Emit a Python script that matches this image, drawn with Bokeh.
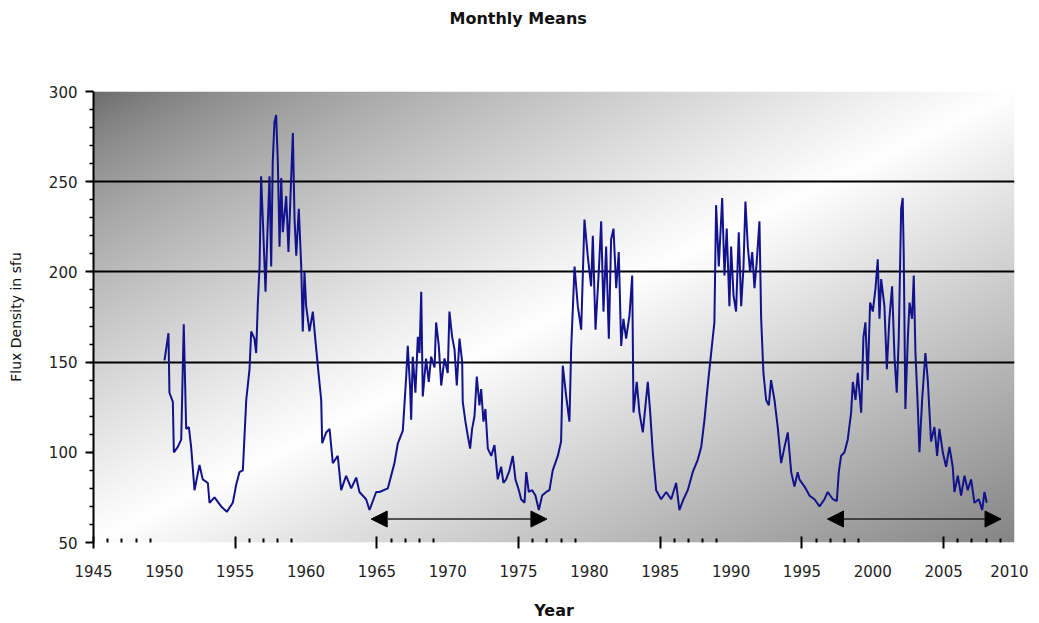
import numpy as np
from bokeh.plotting import figure
from bokeh.layouts import column
from bokeh.models import (Range1d, FixedTicker, LinearAxis, Grid, Arrow, NormalHead,
                          ColumnDataSource, Title)
from bokeh.embed import file_html
from bokeh.resources import INLINE

# ---------------- data ----------------
year = [
    1950.01, 1950.29, 1950.36, 1950.60, 1950.67, 1950.95, 1951.19, 1951.37, 1951.54, 1951.73,
    1951.89, 1952.13, 1952.48, 1952.71, 1953.07, 1953.19, 1953.54, 1954.01, 1954.41, 1954.83,
    1955.07, 1955.30, 1955.54, 1955.78, 1956.01, 1956.13, 1956.36, 1956.48, 1956.60, 1956.72,
    1956.83, 1956.95, 1957.14, 1957.26, 1957.42, 1957.54, 1957.65, 1957.77, 1957.89, 1958.01,
    1958.13, 1958.25, 1958.36, 1958.60, 1958.76, 1958.95, 1959.07, 1959.19, 1959.31, 1959.49,
    1959.66, 1959.77, 1959.89, 1960.01, 1960.24, 1960.48, 1960.65, 1960.83, 1961.07, 1961.14,
    1961.42, 1961.66, 1961.89, 1962.24, 1962.48, 1962.83, 1963.19, 1963.54, 1963.77, 1964.24,
    1964.48, 1964.95, 1965.18, 1965.77, 1966.24, 1966.48, 1966.83, 1967.07, 1967.18, 1967.35,
    1967.42, 1967.53, 1967.72, 1967.89, 1968.01, 1968.13, 1968.24, 1968.47, 1968.66, 1968.83,
    1969.07, 1969.18, 1969.37, 1969.54, 1969.77, 1970.00, 1970.12, 1970.31, 1970.48, 1970.64,
    1970.83, 1971.02, 1971.06, 1971.25, 1971.42, 1971.58, 1971.72, 1971.89, 1972.05, 1972.24,
    1972.36, 1972.52, 1972.66, 1972.83, 1973.07, 1973.30, 1973.53, 1973.77, 1973.93, 1974.12,
    1974.36, 1974.59, 1974.78, 1975.02, 1975.18, 1975.42, 1975.54, 1975.72, 1975.96, 1976.19,
    1976.43, 1976.66, 1976.95, 1977.18, 1977.41, 1977.77, 1978.00, 1978.12, 1978.36, 1978.59,
    1978.71, 1978.95, 1979.18, 1979.42, 1979.65, 1979.88, 1980.12, 1980.24, 1980.43, 1980.66,
    1980.83, 1980.99, 1981.18, 1981.37, 1981.53, 1981.70, 1981.89, 1982.07, 1982.24, 1982.40,
    1982.59, 1982.83, 1983.02, 1983.11, 1983.34, 1983.53, 1983.77, 1984.12, 1984.29, 1984.47,
    1984.71, 1985.06, 1985.42, 1985.77, 1986.12, 1986.35, 1986.64, 1986.94, 1987.29, 1987.65,
    1987.89, 1988.12, 1988.35, 1988.59, 1988.82, 1988.94, 1989.13, 1989.37, 1989.53, 1989.69,
    1989.88, 1990.00, 1990.17, 1990.35, 1990.54, 1990.71, 1990.87, 1991.01, 1991.18, 1991.34,
    1991.49, 1991.65, 1991.81, 1992.00, 1992.12, 1992.28, 1992.47, 1992.66, 1992.82, 1993.06,
    1993.29, 1993.53, 1993.77, 1994.00, 1994.24, 1994.47, 1994.70, 1994.82, 1995.18, 1995.53,
    1995.88, 1996.24, 1996.59, 1996.82, 1997.18, 1997.46, 1997.60, 1997.76, 1998.00, 1998.23,
    1998.47, 1998.59, 1998.78, 1998.94, 1999.18, 1999.34, 1999.48, 1999.64, 1999.81, 2000.00,
    2000.19, 2000.35, 2000.47, 2000.59, 2000.82, 2000.99, 2001.17, 2001.36, 2001.53, 2001.69,
    2001.83, 2002.00, 2002.11, 2002.18, 2002.30, 2002.47, 2002.59, 2002.77, 2002.89, 2003.01,
    2003.17, 2003.29, 2003.48, 2003.71, 2003.88, 2004.11, 2004.35, 2004.54, 2004.70, 2004.94,
    2005.17, 2005.41, 2005.64, 2005.76, 2006.00, 2006.23, 2006.47, 2006.70, 2006.94, 2007.17,
    2007.48, 2007.72, 2007.88, 2008.04,
]
flux = [
    151, 166, 133, 128, 100, 103, 107, 171, 113, 114,
    103, 79, 93, 85, 83, 72, 75, 70, 67, 72,
    82, 89, 90, 129, 146, 167, 163, 155, 183, 203,
    253, 229, 189, 218, 253, 203, 261, 283, 287, 261,
    214, 252, 222, 242, 211, 252, 277, 229, 209, 235,
    203, 167, 200, 181, 167, 178, 163, 148, 129, 105,
    111, 113, 94, 98, 79, 87, 80, 86, 78, 74,
    68, 78, 78, 80, 94, 105, 112, 142, 159, 135,
    118, 153, 133, 164, 155, 189, 131, 152, 139, 153,
    147, 172, 159, 137, 152, 144, 178, 164, 157, 137,
    163, 150, 128, 117, 109, 102, 113, 120, 142, 126,
    135, 117, 124, 102, 98, 104, 85, 92, 83, 85,
    90, 98, 85, 79, 74, 72, 89, 78, 79, 76,
    68, 76, 78, 79, 90, 98, 106, 148, 131, 117,
    157, 203, 181, 168, 229, 209, 192, 220, 168, 200,
    228, 178, 214, 163, 218, 224, 191, 211, 159, 174,
    163, 176, 198, 122, 139, 122, 111, 139, 122, 100,
    79, 74, 78, 74, 83, 68, 74, 79, 89, 96,
    103, 118, 137, 155, 172, 237, 203, 241, 198, 224,
    181, 214, 187, 178, 222, 181, 202, 239, 214, 200,
    211, 191, 206, 228, 174, 144, 129, 126, 140, 129,
    114, 94, 103, 111, 89, 81, 89, 85, 81, 76,
    74, 70, 74, 78, 74, 73, 89, 98, 100, 107,
    122, 139, 129, 144, 122, 164, 172, 140, 183, 178,
    191, 207, 174, 196, 181, 146, 174, 192, 153, 133,
    163, 235, 241, 211, 124, 163, 183, 174, 198, 155,
    126, 100, 129, 155, 140, 106, 114, 98, 113, 100,
    92, 103, 92, 78, 87, 76, 87, 79, 85, 72,
    74, 68, 78, 72,
]

x_ticks = [1945, 1950, 1955, 1960, 1965, 1970, 1975, 1980, 1985, 1990, 1995, 2000, 2005, 2010]
x_major_marks = [1945, 1955, 1965, 1975, 1985, 1995, 2005]
x_minor_marks = [1946, 1947, 1948, 1949, 1956, 1957, 1958, 1959, 1966, 1967, 1968, 1969,
                 1976, 1977, 1978, 1979, 1986, 1987, 1988, 1989, 1996, 1997, 1998, 1999,
                 2006, 2007, 2008, 2009]
y_ticks = [50, 100, 150, 200, 250, 300]
y_minor = list(range(60, 300, 10))
grid_levels = [150, 200, 250]

arrow_x0 = [1964.6, 1996.8]
arrow_x1 = [1977.0, 2009.05]
arrow_y = [63, 63]

x_lo, x_hi = 1945, 2010
y_lo, y_hi = 50, 300

title_text = "Monthly Means"
y_label_text = "Flux Density in sfu"
x_label_text = "Year"

FIG_W = 1028

# ---------------- title strip ----------------
pt = figure(width=FIG_W, height=34, output_backend="svg", toolbar_location=None, tools="",
            x_axis_type=None, y_axis_type=None, min_border=0)
pt.outline_line_color = None
pt.background_fill_color = "white"
pt.border_fill_color = "white"
pt.grid.visible = False
pt.title = Title(text=title_text, align="left", offset=356, standoff=12,
                 text_font="DejaVu Sans", text_font_size="16px", text_font_style="bold",
                 text_color="#111111")

# ---------------- main figure ----------------
p = figure(width=FIG_W, height=588, output_backend="svg", toolbar_location=None, tools="",
           x_range=Range1d(x_lo, x_hi), y_range=Range1d(y_lo, y_hi),
           x_axis_type=None, y_axis_type=None,
           min_border_left=93, min_border_right=14, min_border_top=57, min_border_bottom=80)
p.background_fill_color = "white"
p.border_fill_color = "white"
p.outline_line_color = None

# background gradient (styling only)
W, H = 921, 451
u = (np.arange(W) / (W - 1))[None, :]
v = (1 - np.arange(H) / (H - 1))[:, None]
t = u + v
g = np.where(t <= 1.0, 104 + 151 * np.clip(t, 0, 1) ** 0.7, 255 - 122 * (t - 1.0))
g = np.clip(g, 0, 255).astype(np.uint8)
img = np.empty((H, W), dtype=np.uint32)
view = img.view(dtype=np.uint8).reshape((H, W, 4))
view[..., 0] = g
view[..., 1] = g
view[..., 2] = g
view[..., 3] = 255
p.image_rgba(image=[img], x=x_lo, y=y_lo, dw=x_hi - x_lo, dh=y_hi - y_lo, level="image")

# y axis
yax = LinearAxis(ticker=FixedTicker(ticks=y_ticks, minor_ticks=y_minor),
                 axis_label=y_label_text)
yax.axis_line_color = "black"
yax.axis_line_width = 2
yax.major_tick_line_color = "black"
yax.major_tick_line_width = 2
yax.major_tick_in = 0
yax.major_tick_out = 8
yax.minor_tick_line_color = "black"
yax.minor_tick_line_width = 1.5
yax.minor_tick_in = 0
yax.minor_tick_out = 4
yax.major_label_standoff = 8
yax.major_label_text_font = "DejaVu Sans"
yax.major_label_text_font_size = "15px"
yax.major_label_text_color = "#222222"
yax.axis_label_text_font = "DejaVu Sans"
yax.axis_label_text_font_size = "14px"
yax.axis_label_text_font_style = "normal"
yax.axis_label_text_color = "#111111"
yax.axis_label_standoff = 22
p.add_layout(yax, "left")

# x axis: tick marks only
xax_ticks = LinearAxis(ticker=FixedTicker(ticks=x_major_marks, minor_ticks=x_minor_marks))
xax_ticks.axis_line_color = None
xax_ticks.major_tick_line_color = "black"
xax_ticks.major_tick_line_width = 2
xax_ticks.major_tick_in = 6
xax_ticks.major_tick_out = 6
xax_ticks.minor_tick_line_color = "black"
xax_ticks.minor_tick_line_width = 2
xax_ticks.minor_tick_in = 4
xax_ticks.minor_tick_out = 0
xax_ticks.major_label_overrides = {m: "" for m in x_major_marks}
xax_ticks.major_label_text_font_size = "1px"
xax_ticks.major_label_standoff = 0
p.add_layout(xax_ticks, "below")

# x axis: labels
xax = LinearAxis(ticker=FixedTicker(ticks=x_ticks, minor_ticks=[]), axis_label=x_label_text)
xax.axis_line_color = None
xax.major_tick_line_color = None
xax.minor_tick_line_color = None
xax.major_tick_in = 0
xax.major_tick_out = 0
xax.major_label_standoff = 16
xax.major_label_text_font = "DejaVu Sans"
xax.major_label_text_font_size = "15px"
xax.major_label_text_color = "#222222"
xax.axis_label_text_font = "DejaVu Sans"
xax.axis_label_text_font_size = "16px"
xax.axis_label_text_font_style = "bold"
xax.axis_label_text_color = "#111111"
xax.axis_label_standoff = 21
p.add_layout(xax, "below")

# grid lines
p.add_layout(Grid(dimension=1, ticker=FixedTicker(ticks=grid_levels),
                  grid_line_color="black", grid_line_width=2))
p.add_layout(Grid(dimension=1, ticker=FixedTicker(ticks=[y_hi]),
                  grid_line_color="#a0a0a0", grid_line_width=3))

# data line
p.line(year, flux, line_color="#12128c", line_width=2)

# arrows
asrc = ColumnDataSource(dict(x0=arrow_x0, x1=arrow_x1, y=arrow_y))
p.add_layout(Arrow(x_start="x0", y_start="y", x_end="x1", y_end="y", source=asrc,
                   line_color="#222222", line_width=1.5,
                   start=NormalHead(size=16, fill_color="black", line_color="black"),
                   end=NormalHead(size=16, fill_color="black", line_color="black")))

layout = column(pt, p, spacing=0)
open("out.html", "w").write(file_html(layout, INLINE))
